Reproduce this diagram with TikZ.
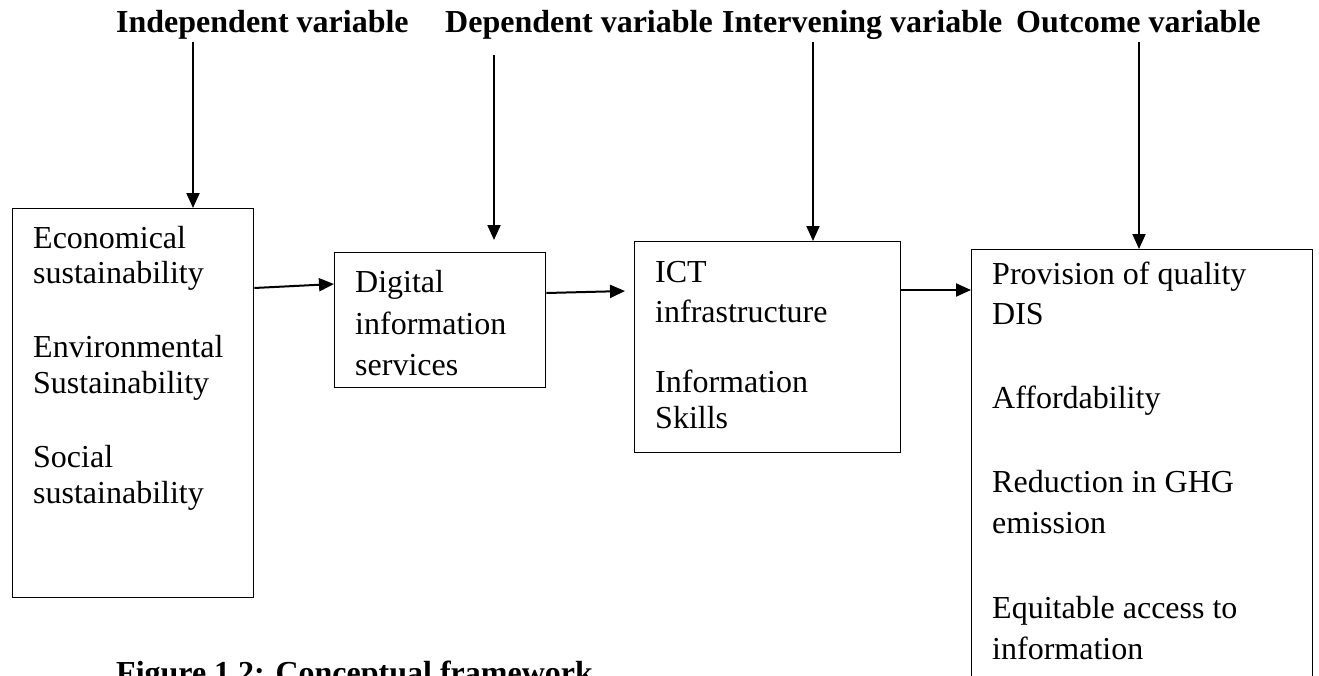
\documentclass[tikz,border=0pt]{standalone}
\usepackage{fontspec}
\setmainfont{Liberation Serif}
\usetikzlibrary{arrows.meta, positioning}
\tikzset{
    frame/.style={draw, line width=1.3pt, inner sep=0pt, anchor=north west},
    body/.style={anchor=base west, inner sep=0pt, font=\fontsize{32}{38}\selectfont},
    heading/.style={anchor=base west, inner sep=0pt, font=\fontsize{32}{38}\selectfont\bfseries},
    flow/.style={line width=2pt, -{Triangle[length=15pt, width=13pt]}}
}

\begin{document}
\begin{tikzpicture}[x=1pt, y=-1pt]
    \useasboundingbox (0,0) rectangle (1319,675);
    \clip (0,0) rectangle (1319,675);
    \fill[white] (0,0) rectangle (1319,675);

    % Headings
    \node[heading] (indep) at (116,32) {Independent variable};
    \node[heading] (dep) at (445,32) {Dependent variable};
    \node[heading] (interv) at (722,32) {Intervening variable};
    \node[heading] (outc) at (1016,32) {Outcome variable};

    % Boxes
    \node[frame, minimum width=241pt, minimum height=389pt] (sust) at (12,208) {};
    \node[frame, minimum width=211pt, minimum height=135pt] (dis) at (334,252) {};
    \node[frame, minimum width=266pt, minimum height=211pt] (ict) at (634,241) {};
    \node[frame, minimum width=341pt, minimum height=470pt] (outbox) at (971,249) {};

    % Sustainability
    \node[body] (s1) at (33,248) {Economical};
    \node[body] (s2) at (33,283) {sustainability};
    \node[body] (s3) at (33,357) {Environmental};
    \node[body] (s4) at (33,393) {Sustainability};
    \node[body] (s5) at (33,467) {Social};
    \node[body] (s6) at (33,503) {sustainability};

    % Digital information services
    \node[body] (d1) at (355,292) {Digital};
    \node[body] (d2) at (355,334) {information};
    \node[body] (d3) at (355,375) {services};

    % ICT
    \node[body] (i1) at (655,282) {ICT};
    \node[body] (i2) at (655,322) {infrastructure};
    \node[body] (i3) at (655,392) {Information};
    \node[body] (i4) at (655,428) {Skills};

    % Outcomes
    \node[body] (o1) at (992,284) {Provision of quality};
    \node[body] (o2) at (992,324) {DIS};
    \node[body] (o3) at (992,408) {Affordability};
    \node[body] (o4) at (992,492) {Reduction in GHG};
    \node[body] (o5) at (992,533) {emission};
    \node[body] (o6) at (992,618) {Equitable access to};
    \node[body] (o7) at (992,659) {information};

    % Caption
    \node[heading] (cap) at (116,683) {Figure 1.2: Conceptual framework};

    % Arrows from the headings
    \coordinate (t1) at (193,42);
    \coordinate (t2) at (494,55);
    \coordinate (t3) at (813,42);
    \coordinate (t4) at (1139,42);
    \coordinate (e2) at (494,240);
    \draw[flow] (t1) -- (t1 |- sust.north);
    \draw[flow] (t2) -- (e2);
    \draw[flow] (t3) -- (t3 |- ict.north);
    \draw[flow] (t4) -- (t4 |- outbox.north);

    % Arrows between the boxes
    \draw[flow] ([yshift=-80pt]sust.north east) -- ([yshift=-32pt]dis.north west);
    \draw[flow] ([yshift=-41pt]dis.north east) -- ([xshift=-9pt, yshift=-50pt]ict.north west);
    \draw[flow] ([yshift=-49pt]ict.north east) -- ([yshift=-49pt]ict.north east -| outbox.west);
\end{tikzpicture}
\end{document}
